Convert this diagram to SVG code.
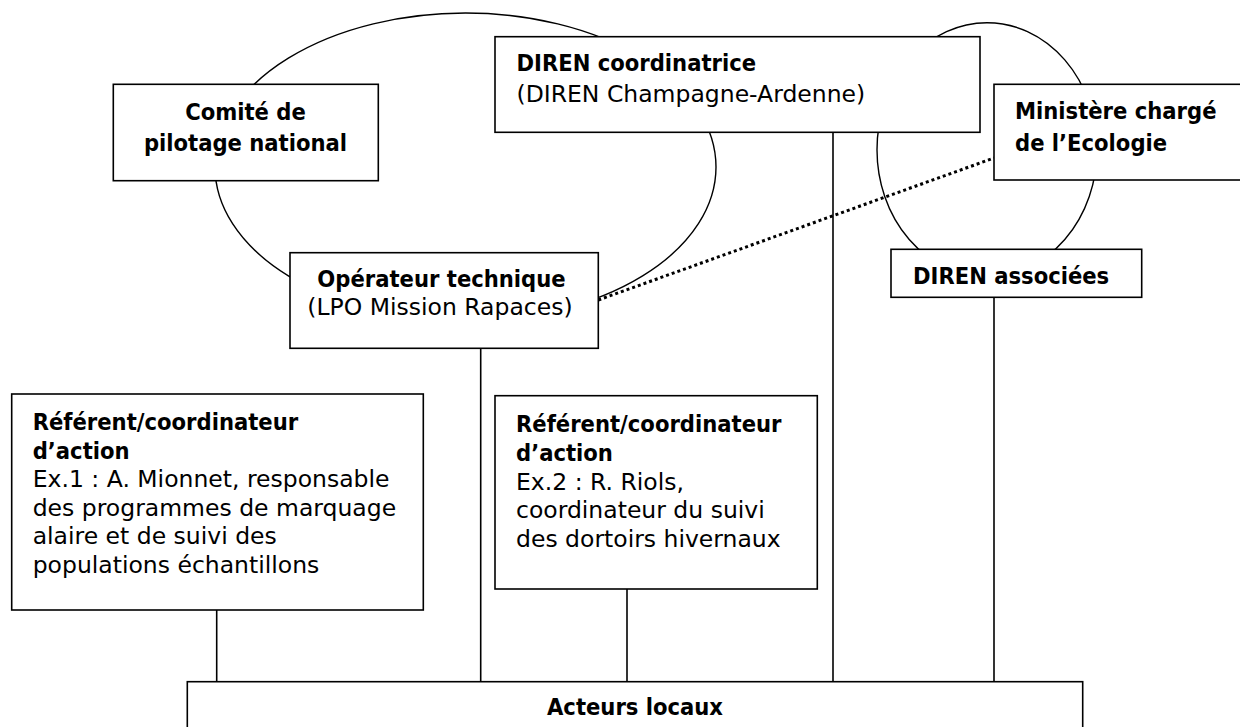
<svg xmlns="http://www.w3.org/2000/svg" width="1240" height="727" viewBox="0 0 1240 727">
<style>
  .bg{fill:#ffffff}
  .ell{fill:none;stroke:#000;stroke-width:1.4}
  .box{fill:#ffffff;stroke:#000;stroke-width:1.6}
  .ln{stroke:#000;stroke-width:1.6;fill:none}
  .dot{stroke:#000;stroke-width:3;stroke-dasharray:3 3;fill:none}
  text{font-family:"DejaVu Sans","Liberation Sans",sans-serif;font-size:23.5px;fill:#000}
  .b{font-family:"DejaVu Sans Condensed","DejaVu Sans","Liberation Sans",sans-serif;font-weight:bold;font-stretch:condensed}
  .c{text-anchor:middle}
</style>
<rect class="bg" x="0" y="0" width="1240" height="727"/>
<g id="ellipses">
  <ellipse class="ell" cx="465.5" cy="167" rx="250.5" ry="154"/>
  <ellipse class="ell" cx="987" cy="149.7" rx="110" ry="127"/>
</g>
<g id="connectors">
  <line class="ln" x1="216.7" y1="610" x2="216.7" y2="681.7"/>
  <line class="ln" x1="480.7" y1="348.3" x2="480.7" y2="681.7"/>
  <line class="ln" x1="627" y1="589" x2="627" y2="681.7"/>
  <line class="ln" x1="833" y1="132.3" x2="833" y2="681.7"/>
  <line class="ln" x1="994" y1="297.3" x2="994" y2="681.7"/>
  <line class="dot" x1="598.3" y1="300" x2="994" y2="158"/>
</g>
<g id="comite">
  <rect class="box" x="113.3" y="84.3" width="265" height="96.4"/>
  <text class="b c" x="245.5" y="119.5">Comité de</text>
  <text class="b c" x="245.5" y="151">pilotage national</text>
</g>
<g id="diren-coord">
  <rect class="box" x="495" y="36.7" width="485" height="95.6"/>
  <text class="b" x="516.5" y="70.7">DIREN coordinatrice</text>
  <text x="516.5" y="102">(DIREN Champagne-Ardenne)</text>
</g>
<g id="ministere">
  <rect class="box" x="994" y="84.3" width="260" height="95.7"/>
  <text class="b" x="1015" y="119">Ministère chargé</text>
  <text class="b" x="1015" y="151.2">de l’Ecologie</text>
</g>
<g id="operateur">
  <rect class="box" x="290" y="252.7" width="308.3" height="95.6"/>
  <text class="b c" x="441.5" y="286.7">Opérateur technique</text>
  <text class="c" x="440" y="315">(LPO Mission Rapaces)</text>
</g>
<g id="diren-associees">
  <rect class="box" x="891" y="249.3" width="250.7" height="48"/>
  <text class="b" x="913" y="283.5">DIREN associées</text>
</g>
<g id="referent1">
  <rect class="box" x="11.7" y="394" width="411.6" height="216"/>
  <text class="b" x="32.7" y="430">Référent/coordinateur</text>
  <text class="b" x="32.7" y="458.5">d’action</text>
  <text x="32.7" y="487">Ex.1 : A. Mionnet, responsable</text>
  <text x="32.7" y="515.7">des programmes de marquage</text>
  <text x="32.7" y="544.3">alaire et de suivi des</text>
  <text x="32.7" y="573">populations échantillons</text>
</g>
<g id="referent2">
  <rect class="box" x="495" y="395.7" width="322.3" height="193.3"/>
  <text class="b" x="516" y="432">Référent/coordinateur</text>
  <text class="b" x="516" y="461">d’action</text>
  <text x="516" y="489.7">Ex.2 : R. Riols,</text>
  <text x="516" y="518.3">coordinateur du suivi</text>
  <text x="516" y="546.7">des dortoirs hivernaux</text>
</g>
<g id="acteurs">
  <rect class="box" x="187.3" y="681.7" width="895.4" height="60"/>
  <text class="b c" x="635" y="715">Acteurs locaux</text>
</g>
</svg>
